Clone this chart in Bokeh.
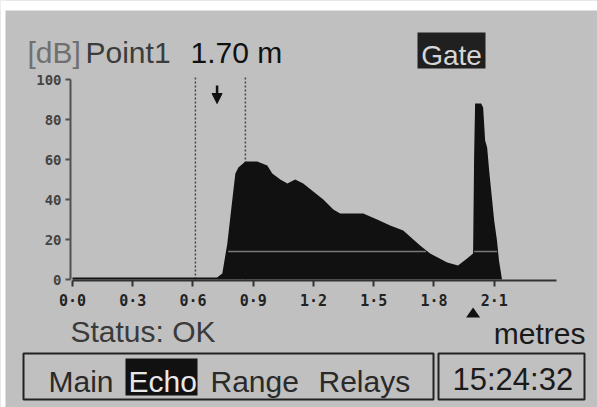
import math
from bokeh.plotting import figure
from bokeh.models import Range1d, Label, BoxAnnotation, FixedTicker, PolyAnnotation, Arrow, NormalHead
from bokeh.embed import file_html
from bokeh.resources import INLINE

# ---- data read from the echo profile ----
dist_m = [0.00, 0.72, 0.746, 0.771, 0.796, 0.811, 0.826, 0.861, 0.920, 0.970, 0.995,
          1.035, 1.070, 1.109, 1.149, 1.199, 1.249, 1.299, 1.333, 1.448, 1.517, 1.582,
          1.647, 1.731, 1.781, 1.866, 1.920, 1.965, 1.995, 2.000, 2.005, 2.035, 2.045,
          2.055, 2.065, 2.075, 2.090, 2.100, 2.114, 2.124, 2.139, 2.41]
amp_db = [1, 1, 3, 18, 40, 53, 56, 59, 59, 57, 53,
          50, 48, 50, 48, 44, 40, 35, 33, 33, 30, 27,
          24.5, 17, 13, 8.5, 7, 10.5, 13, 61, 88, 88, 86,
          69.5, 66, 54.5, 39.5, 29.5, 19.5, 9.5, 0, 0]

x_ticks = [0.0, 0.3, 0.6, 0.9, 1.2, 1.5, 1.8, 2.1]
x_tick_labels = ["0·0", "0·3", "0·6", "0·9", "1·2", "1·5", "1·8", "2·1"]
y_ticks = [0, 20, 40, 60, 80, 100]
x_axis_end_m = 2.41

gate_m = [0.612, 0.861]
gate_top_db = 102
cursor_m = 0.72
arrow_top_db = 97
arrow_tip_db = 88
tvt_db = 14
tvt_m = [0.775, 1.76, float("nan"), 2.0, 2.115]
marker_m = 1.995

title_parts = ["[dB]", "Point1", "1.70 m"]
menu_items = ["Main", "Echo", "Range", "Relays"]
clock_text = "15:24:32"
status_text = "Status: OK"
units_text = "metres"
gate_text = "Gate"

# ---- layout helpers (canvas pixel -> data coordinates) ----
W, H = 597, 407
BG = "#c0c0c0"
X0_PX, PX_PER_M = 72.0, 200.8
Y0_PX, PX_PER_DB = 279.0, 2.0


def mx(px):
    return (px - X0_PX) / PX_PER_M


def vy(py):
    return (Y0_PX - py) / PX_PER_DB


p = figure(width=W, height=H,
           x_range=Range1d(mx(0), mx(W)), y_range=Range1d(vy(H), vy(0)),
           min_border=0, min_border_left=0, min_border_right=0,
           min_border_top=0, min_border_bottom=0,
           output_backend="svg", toolbar_location=None)
p.background_fill_color = BG
p.border_fill_color = BG
p.outline_line_color = None
p.grid.visible = False

# bezel edges of the photo
p.add_layout(BoxAnnotation(bottom=vy(10), fill_color="white", fill_alpha=1, line_color=None, level="underlay"))
p.add_layout(BoxAnnotation(right=mx(5), fill_color="white", fill_alpha=1, line_color=None, level="underlay"))

# x axis drawn at 0 dB
p.xaxis.fixed_location = vy(280)
p.xaxis.ticker = FixedTicker(ticks=x_ticks)
p.xaxis.major_label_overrides = {t: l for t, l in zip(x_ticks, x_tick_labels)}
p.xaxis.bounds = (0, x_axis_end_m)
p.xaxis.axis_line_color = "#333333"
p.xaxis.axis_line_width = 2
p.xaxis.major_tick_in = 0
p.xaxis.major_tick_out = 6
p.xaxis.major_tick_line_color = "#333333"
p.xaxis.major_tick_line_width = 2
p.xaxis.minor_tick_line_color = None
p.xaxis.major_label_standoff = 5
p.xaxis.major_label_text_font = "DejaVu Sans Mono"
p.xaxis.major_label_text_font_style = "bold"
p.xaxis.major_label_text_font_size = "15px"
p.xaxis.major_label_text_color = "#222222"

# y axis drawn at the left of the profile
p.yaxis.fixed_location = mx(70)
p.yaxis.ticker = FixedTicker(ticks=y_ticks)
p.yaxis.bounds = (0, 100)
p.yaxis.axis_line_color = "#505050"
p.yaxis.axis_line_width = 2
p.yaxis.major_tick_in = 0
p.yaxis.major_tick_out = 5
p.yaxis.major_tick_line_color = "#505050"
p.yaxis.major_tick_line_width = 2
p.yaxis.minor_tick_line_color = None
p.yaxis.major_label_standoff = 4
p.yaxis.major_label_text_font = "DejaVu Sans Mono"
p.yaxis.major_label_text_font_style = "bold"
p.yaxis.major_label_text_font_size = "14px"
p.yaxis.major_label_text_color = "#454545"

# gate lines (under the echo)
p.segment(x0=gate_m, y0=[0, 0], x1=gate_m, y1=[gate_top_db] * 2,
          line_color="#474747", line_width=1.5, line_dash="2 2")

# echo profile
p.varea(x=dist_m, y1=[0] * len(dist_m), y2=amp_db, fill_color="#111111")
p.line(x=tvt_m, y=[tvt_db] * len(tvt_m), line_color="#7a7a7a", line_width=1.5)

# cursor arrow
p.add_layout(Arrow(end=NormalHead(size=10, fill_color="#111111", line_color="#111111"),
                   x_start=cursor_m, y_start=arrow_top_db, x_end=cursor_m, y_end=arrow_tip_db,
                   line_color="#111111", line_width=2.5))

# marker under the axis
p.add_layout(PolyAnnotation(xs=[marker_m - 0.035, marker_m + 0.035, marker_m],
                            ys=[vy(317), vy(317), vy(307)],
                            fill_color="#111111", fill_alpha=1, line_color=None))


def lab(text, px, py, size=30, color="#222222", align="left", font="Liberation Sans"):
    # shift compensates where Bokeh puts the alphabetic baseline
    p.add_layout(Label(x=mx(px), y=vy(py - 0.31 * size), text=text, text_font=font,
                       text_font_size=f"{size}px", text_color=color, text_align=align,
                       text_baseline="alphabetic"))


def box(px0, px1, py0, py1, fill=None, line=None, width=2):
    p.add_layout(BoxAnnotation(left=mx(px0), right=mx(px1), top=vy(py0), bottom=vy(py1),
                               fill_color=fill if fill else BG, fill_alpha=1 if fill else 0,
                               line_color=line, line_alpha=1, line_width=width))


# title
lab(title_parts[0], 27, 61, color="#707070")
lab(title_parts[1], 85, 61, color="#3c3c3c")
lab(title_parts[2], 190, 61, color="#111111")

# gate box
box(417, 485, 32, 68, fill="#202020")
lab(gate_text, 451, 64, size=28, color="#d6d6d6", align="center")

# status and units
lab(status_text, 70, 340, color="#3a3a3a")
lab(units_text, 585, 342, color="#1a1a1a", align="right")

# menu bar
box(23, 433, 353, 399, line="#222222")
box(438, 584, 353, 399, line="#222222")
box(125, 197, 358, 395, fill="#111111")
lab(menu_items[0], 48, 390, color="#2a2a2a")
lab(menu_items[1], 128, 390, color="#e8e8e8")
lab(menu_items[2], 210, 390, color="#2a2a2a")
lab(menu_items[3], 318, 390, color="#2a2a2a")
lab(clock_text, 452, 389, size=31, color="#1a1a1a")

open("out.html", "w").write(file_html(p, INLINE))
